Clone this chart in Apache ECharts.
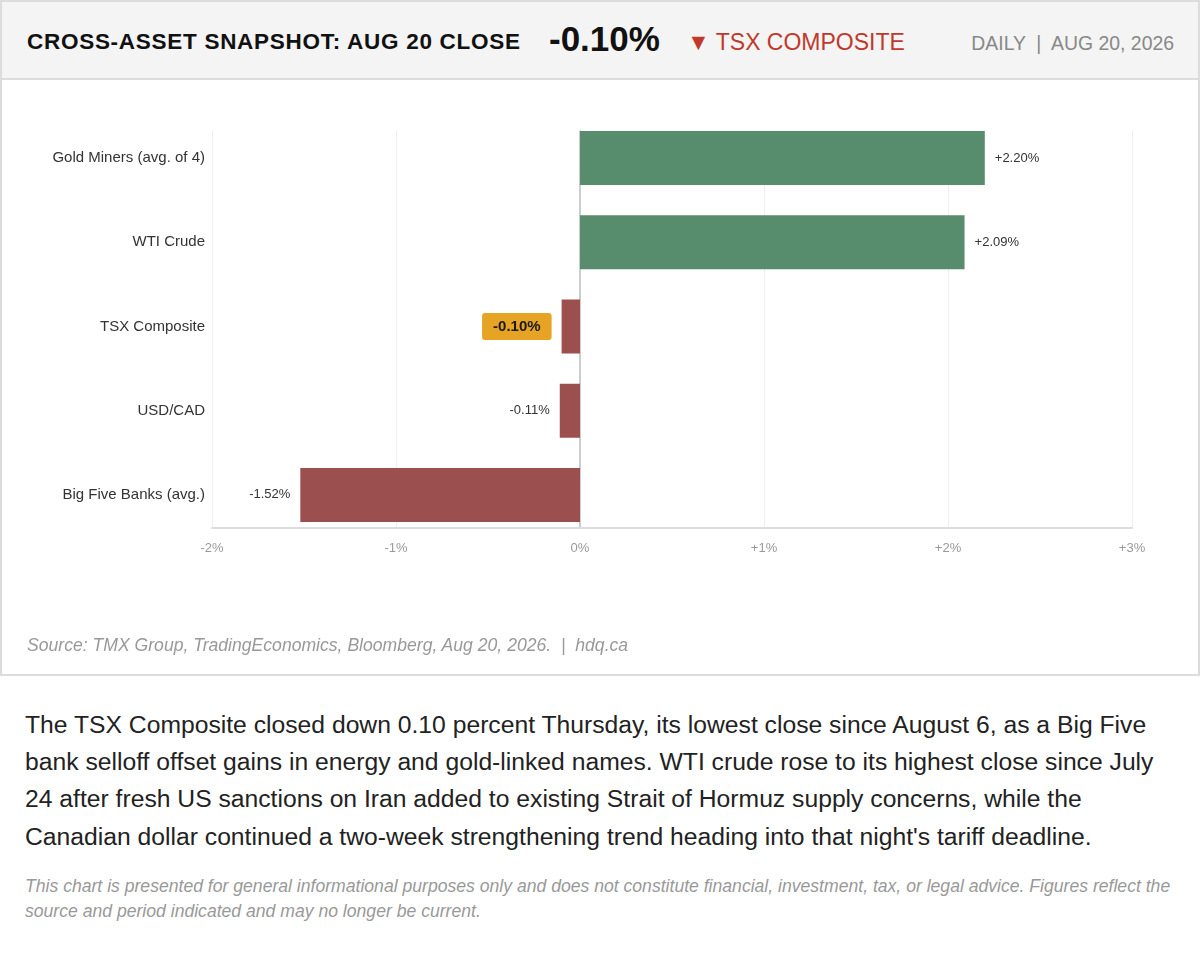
<!DOCTYPE html>
<html>
<head>
<meta charset="utf-8">
<script src="https://cdn.jsdelivr.net/npm/echarts@6/dist/echarts.min.js"></script>
<style>
  html, body { margin: 0; padding: 0; background: #fff; font-family: "Liberation Sans", Arial, sans-serif; }
  .card { position: absolute; left: 0; top: 0; width: 1200px; height: 676px; box-sizing: border-box; border: 2px solid #dcdcdc; background: #fff; }
  .header { position: absolute; left: 0; top: 0; right: 0; height: 76px; background: #f4f4f4; border-bottom: 2px solid #dcdcdc; }
  .title { position: absolute; left: 25px; top: 27px; font-size: 22.5px; font-weight: bold; color: #111; letter-spacing: 0.72px; white-space: nowrap; }
  .big { position: absolute; left: 547px; top: 17px; font-size: 35px; font-weight: bold; color: #111; }
  .dir { position: absolute; left: 685px; top: 27px; font-size: 23px; color: #c0392b; white-space: nowrap; }
  .date { position: absolute; right: 24px; top: 30px; font-size: 19.4px; color: #888; white-space: nowrap; }
  #chart { position: absolute; left: 0; top: 80px; width: 1200px; height: 560px; }
  .source { position: absolute; left: 27px; top: 634px; font-size: 17.6px; line-height: 22px; font-style: italic; color: #999; white-space: nowrap; }
  .para { position: absolute; left: 25px; top: 706px; width: 1150px; font-size: 24.7px; line-height: 37.2px; color: #222; }
  .disc { position: absolute; left: 25px; top: 874px; width: 1160px; font-size: 17.6px; line-height: 25px; font-style: italic; color: #999; }
</style>
</head>
<body>
<div class="card">
  <div class="header">
    <div class="title">CROSS-ASSET SNAPSHOT: AUG 20 CLOSE</div>
    <div class="big">-0.10%</div>
    <div class="dir">▼ TSX COMPOSITE</div>
    <div class="date">DAILY &nbsp;|&nbsp; AUG 20, 2026</div>
  </div>
</div>
<div id="chart"></div>
<div class="source">Source: TMX Group, TradingEconomics, Bloomberg, Aug 20, 2026. &nbsp;|&nbsp; hdq.ca</div>
<div class="para">The TSX Composite closed down 0.10 percent Thursday, its lowest close since August 6, as a Big Five bank selloff offset gains in energy and gold-linked names. WTI crude rose to its highest close since July 24 after fresh US sanctions on Iran added to existing Strait of Hormuz supply concerns, while the Canadian dollar continued a two-week strengthening trend heading into that night's tariff deadline.</div>
<div class="disc">This chart is presented for general informational purposes only and does not constitute financial, investment, tax, or legal advice. Figures reflect the source and period indicated and may no longer be current.</div>
<script>
const categories = ['Gold Miners (avg. of 4)', 'WTI Crude', 'TSX Composite', 'USD/CAD', 'Big Five Banks (avg.)'];
const changes = [2.20, 2.09, -0.10, -0.11, -1.52];
const highlightCategory = 'TSX Composite';
const axisMin = -2;
const axisMax = 3;
const axisInterval = 1;

const UP = '#578d6c';
const DOWN = '#9b4f4e';

function fmtPct(v) { return (v > 0 ? '+' : '') + v.toFixed(2) + '%'; }

const barData = changes.map((v, i) => {
  const item = {
    value: v,
    itemStyle: { color: v >= 0 ? UP : DOWN },
    label: {
      position: v >= 0 ? 'right' : 'left',
      distance: 10
    }
  };
  if (categories[i] === highlightCategory) {
    item.label = {
      position: 'left',
      distance: 10,
      backgroundColor: '#e6a324',
      borderRadius: 3,
      padding: [7, 11, 5, 11],
      fontSize: 15,
      fontWeight: 'bold',
      color: '#1a1a1a'
    };
  }
  return item;
});

const chart = echarts.init(document.getElementById('chart'));
chart.setOption({
  animation: false,
  textStyle: { fontFamily: '"Liberation Sans", Arial, sans-serif' },
  grid: [
    { left: 212, right: 68, top: 51, height: 397 },
    { left: 212, right: 68, top: 36, height: 421 }
  ],
  xAxis: [
    {
      gridIndex: 0, type: 'value', min: axisMin, max: axisMax, interval: axisInterval,
      axisLine: { show: true, lineStyle: { color: '#dddddd', width: 2 } },
      axisTick: { show: false },
      splitLine: { show: true, lineStyle: { color: '#eeeeee', width: 1 } },
      axisLabel: {
        color: '#999', fontSize: 13, margin: 14,
        formatter: v => (v > 0 ? '+' : '') + v + '%'
      }
    },
    {
      gridIndex: 1, type: 'value', min: axisMin, max: axisMax, interval: axisInterval,
      show: false
    }
  ],
  yAxis: [
    {
      gridIndex: 0, type: 'category', data: categories, inverse: true,
      axisLine: { show: true, onZero: true, lineStyle: { color: '#cccccc', width: 2 } },
      axisTick: { show: false },
      axisLabel: { show: false },
      splitLine: { show: false }
    },
    {
      gridIndex: 1, type: 'category', data: categories, inverse: true,
      axisLine: { show: false },
      axisTick: { show: false },
      splitLine: { show: false },
      axisLabel: { color: '#333', fontSize: 15, margin: 7 }
    }
  ],
  series: [
    {
      type: 'bar',
      xAxisIndex: 1,
      yAxisIndex: 1,
      barWidth: 54,
      data: barData,
      label: {
        show: true,
        color: '#333',
        fontSize: 13,
        formatter: p => fmtPct(p.value)
      }
    }
  ]
});
</script>
</body>
</html>
